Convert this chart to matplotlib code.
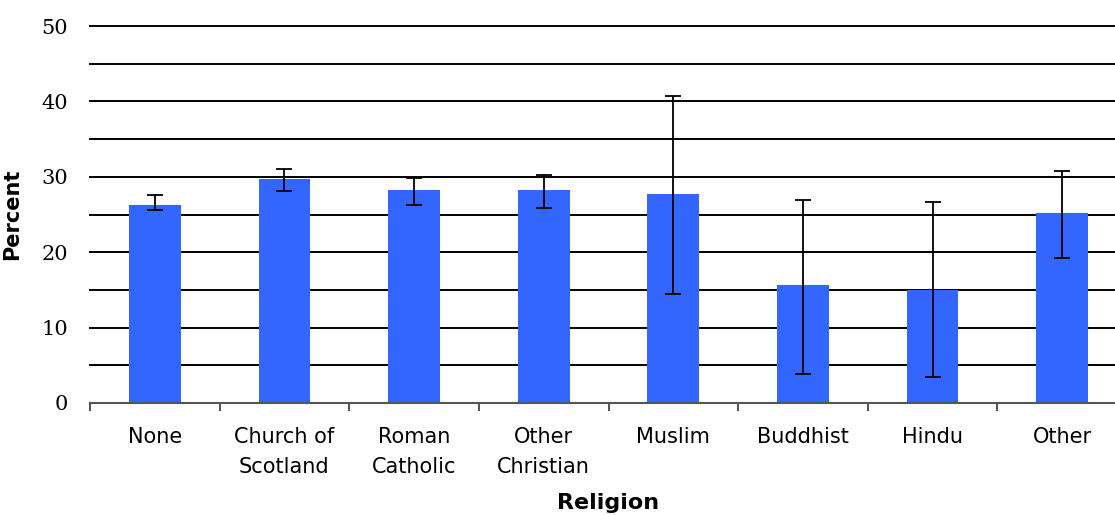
import numpy as np
from matplotlib import pyplot as plt
from matplotlib.ticker import FixedLocator, MultipleLocator

# porcentaje por religión, con límites del intervalo
religiones = ["None", "Church of\nScotland", "Roman\nCatholic", "Other\nChristian",
              "Muslim", "Buddhist", "Hindu", "Other"]
porcentaje = [26.3, 29.7, 28.2, 28.2, 27.7, 15.7, 15.0, 25.2]
limite_inf = [25.6, 28.1, 26.3, 25.8, 14.5, 3.9, 3.4, 19.2]
limite_sup = [27.6, 31.0, 29.9, 30.3, 40.7, 26.9, 26.7, 30.8]

AZUL = "#3366FF"


def graficar():
    fig = plt.figure(figsize=(11.15, 5.15), dpi=100)
    ax = fig.add_axes([90 / 1115, 112 / 515, 1037 / 1115, 377 / 515])

    x = np.arange(len(religiones))
    valores = np.array(porcentaje)
    err = [valores - np.array(limite_inf), np.array(limite_sup) - valores]

    ax.bar(x, valores, width=0.4, color=AZUL, zorder=2)
    ax.errorbar(x, valores, yerr=err, fmt="none", ecolor="black",
                elinewidth=1.3, capsize=5.5, capthick=1.3, zorder=3)

    # líneas horizontales cada 5 puntos
    for y in np.arange(5, 51, 5):
        ax.axhline(y, color="black", linewidth=1.4, zorder=1, clip_on=False)

    ax.set_xlim(-0.5, len(religiones) - 0.5)
    ax.set_ylim(0, 50)
    ax.yaxis.set_major_locator(MultipleLocator(10))
    ax.tick_params(axis="y", length=0, pad=16, labelsize=15)
    for lbl in ax.get_yticklabels():
        lbl.set_fontfamily("DejaVu Serif")

    ax.set_xticks(x)
    ax.set_xticklabels(religiones, fontsize=15, linespacing=1.65)
    ax.tick_params(axis="x", which="major", length=0, pad=17)
    ax.xaxis.set_minor_locator(FixedLocator(np.arange(-0.5, len(religiones), 1)))
    ax.tick_params(axis="x", which="minor", length=6, width=1.2, color="#333333")

    for lado in ["left", "right", "top"]:
        ax.spines[lado].set_visible(False)
    ax.spines["bottom"].set_color("#555555")
    ax.spines["bottom"].set_linewidth(1.5)

    ax.set_ylabel("Percent", fontsize=15, fontweight="bold")
    ax.yaxis.set_label_coords(-68 / 1037, 0.5)
    fig.text(608 / 1115, 12 / 515, "Religion", fontsize=16, fontweight="bold",
             ha="center", va="center")

    fig.savefig("out.png", dpi=100)


if __name__ == "__main__":
    graficar()
